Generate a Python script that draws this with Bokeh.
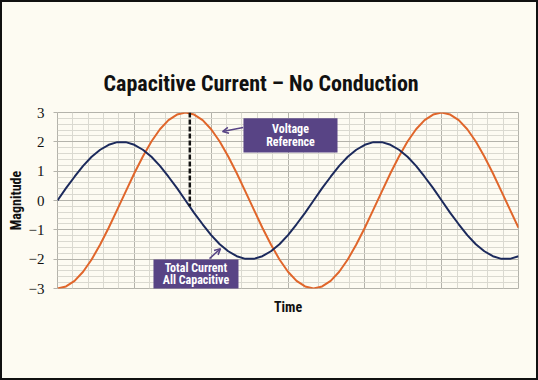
from bokeh.plotting import figure
from bokeh.models import (SingleIntervalTicker, FixedTicker, Range1d, BoxAnnotation,
                          Label, Arrow, OpenHead, InlineStyleSheet)
from bokeh.embed import file_html
from bokeh.resources import INLINE

# ---------------- data ----------------
time_deg = list(range(0, 649, 12))
total_current = [0, 0.42, 0.81, 1.18, 1.49, 1.73, 1.90, 1.99, 1.99, 1.90, 1.73, 1.49,
                 1.18, 0.81, 0.42, 0, -0.42, -0.81, -1.18, -1.49, -1.73, -1.90, -1.99,
                 -1.99, -1.90, -1.73, -1.49, -1.18, -0.81, -0.42, 0,
                 0.42, 0.81, 1.18, 1.49, 1.73, 1.90, 1.99, 1.99, 1.90, 1.73, 1.49,
                 1.18, 0.81, 0.42, 0, -0.42, -0.81, -1.18, -1.49, -1.73, -1.90, -1.99,
                 -1.99, -1.90]
voltage = [-3.00, -2.93, -2.74, -2.43, -2.01, -1.50, -0.93, -0.31, 0.31, 0.93, 1.50,
           2.01, 2.43, 2.74, 2.93, 3.00, 2.93, 2.74, 2.43, 2.01, 1.50, 0.93, 0.31,
           -0.31, -0.93, -1.50, -2.01, -2.43, -2.74, -2.93, -3.00,
           -2.93, -2.74, -2.43, -2.01, -1.50, -0.93, -0.31, 0.31, 0.93, 1.50,
           2.01, 2.43, 2.74, 2.93, 3.00, 2.93, 2.74, 2.43, 2.01, 1.50, 0.93, 0.31,
           -0.31, -0.93]
marker_time = 186
marker_top = 3
marker_bottom = -0.2
y_min, y_max = -3, 3
x_min, x_max = 0, 648

title_text = "Capacitive Current \u2013 No Conduction"
x_title = "Time"
y_title = "Magnitude"
voltage_note = ["Voltage", "Reference"]
current_note = ["Total Current", "All Capacitive"]

# ---------------- styles ----------------
COND = "'Liberation Sans Narrow', 'Roboto Condensed', 'DejaVu Sans Condensed', 'Arial Narrow', sans-serif"
BG = "#fdfbf2"
ORANGE = "#e0662b"
NAVY = "#1c2a5c"
PURPLE = "#584485"
MAJOR = "#b4b3ab"
MINOR = "#dad9d0"

p = figure(width=538, height=380, x_range=Range1d(x_min, x_max),
           y_range=Range1d(y_min, y_max), output_backend="svg",
           toolbar_location=None, min_border_left=57, min_border_right=20,
           min_border_top=112, min_border_bottom=92)
p.stylesheets = [InlineStyleSheet(css=(
    ":host::after { content: ''; position: absolute; left: 0; top: 0; right: 0; "
    "bottom: 0; border: 2px solid #111111; box-sizing: border-box; "
    "pointer-events: none; z-index: 1000; }"))]
p.background_fill_color = BG
p.border_fill_color = BG
p.outline_line_color = MAJOR

p.title.text = title_text
p.title.align = "left"
p.title.offset = 46
p.title.text_font = COND
p.title.text_font_style = "bold"
p.title.text_font_size = "22px"
p.title.text_color = "#111111"
p.title.standoff = 34

p.xaxis.ticker = FixedTicker(ticks=[])
p.xgrid.ticker = SingleIntervalTicker(interval=108, num_minor_ticks=5)
p.yaxis.ticker = SingleIntervalTicker(interval=1, num_minor_ticks=5)
p.grid.grid_line_color = MAJOR
p.grid.minor_grid_line_color = MINOR
p.grid.grid_line_width = 1
p.grid.level = "underlay"

p.xaxis.axis_line_color = None
p.xaxis.major_tick_line_color = None
p.xaxis.minor_tick_line_color = None
p.xaxis.major_label_standoff = 0
p.xaxis.axis_label = x_title
p.xaxis.axis_label_text_font = COND
p.xaxis.axis_label_text_font_style = "bold"
p.xaxis.axis_label_text_font_size = "14px"
p.xaxis.axis_label_text_color = "#111111"
p.xaxis.axis_label_standoff = 10

p.yaxis.axis_line_color = None
p.yaxis.major_tick_in = 0
p.yaxis.major_tick_out = 4
p.yaxis.major_tick_line_color = MAJOR
p.yaxis.minor_tick_line_color = None
p.yaxis.major_label_text_font = "Liberation Serif"
p.yaxis.major_label_text_font_size = "15px"
p.yaxis.major_label_text_color = "#111111"
p.yaxis.major_label_standoff = 9
p.yaxis.axis_label = y_title
p.yaxis.axis_label_text_font = COND
p.yaxis.axis_label_text_font_style = "bold"
p.yaxis.axis_label_text_font_size = "14px"
p.yaxis.axis_label_text_color = "#111111"
p.yaxis.axis_label_standoff = 2

p.line(time_deg, voltage, line_color=ORANGE, line_width=2)
p.line(time_deg, total_current, line_color=NAVY, line_width=2)
p.segment(x0=[marker_time], y0=[marker_top], x1=[marker_time], y1=[marker_bottom],
          line_color="#111111", line_width=2.5, line_dash="5 2")

# annotation boxes
p.add_layout(BoxAnnotation(left=261.4, right=393.6, top=2.80, bottom=1.64,
                           fill_color=PURPLE, fill_alpha=1, line_color=None))
p.add_layout(BoxAnnotation(left=134.9, right=254.4, top=-2.01, bottom=-3.02,
                           fill_color=PURPLE, fill_alpha=1, line_color=None))
for txt, yy in zip(voltage_note, [2.43, 2.00]):
    p.add_layout(Label(x=327.5, y=yy, text=txt, text_align="center",
                       text_baseline="middle", text_font=COND, text_font_style="bold",
                       text_font_size="12px", text_color="white"))
for txt, yy in zip(current_note, [-2.30, -2.72]):
    p.add_layout(Label(x=194.6, y=yy, text=txt, text_align="center",
                       text_baseline="middle", text_font=COND, text_font_style="bold",
                       text_font_size="12px", text_color="white"))

p.add_layout(Arrow(end=OpenHead(size=6, line_color=PURPLE, line_width=1.5),
                   x_start=261.0, y_start=2.49, x_end=232.0, y_end=2.35,
                   line_color=PURPLE, line_width=1.5))
p.add_layout(Arrow(end=OpenHead(size=6, line_color=PURPLE, line_width=1.5),
                   x_start=213.7, y_start=-1.98, x_end=229.1, y_end=-1.64,
                   line_color=PURPLE, line_width=1.5))

open("out.html", "w").write(file_html(p, INLINE))
